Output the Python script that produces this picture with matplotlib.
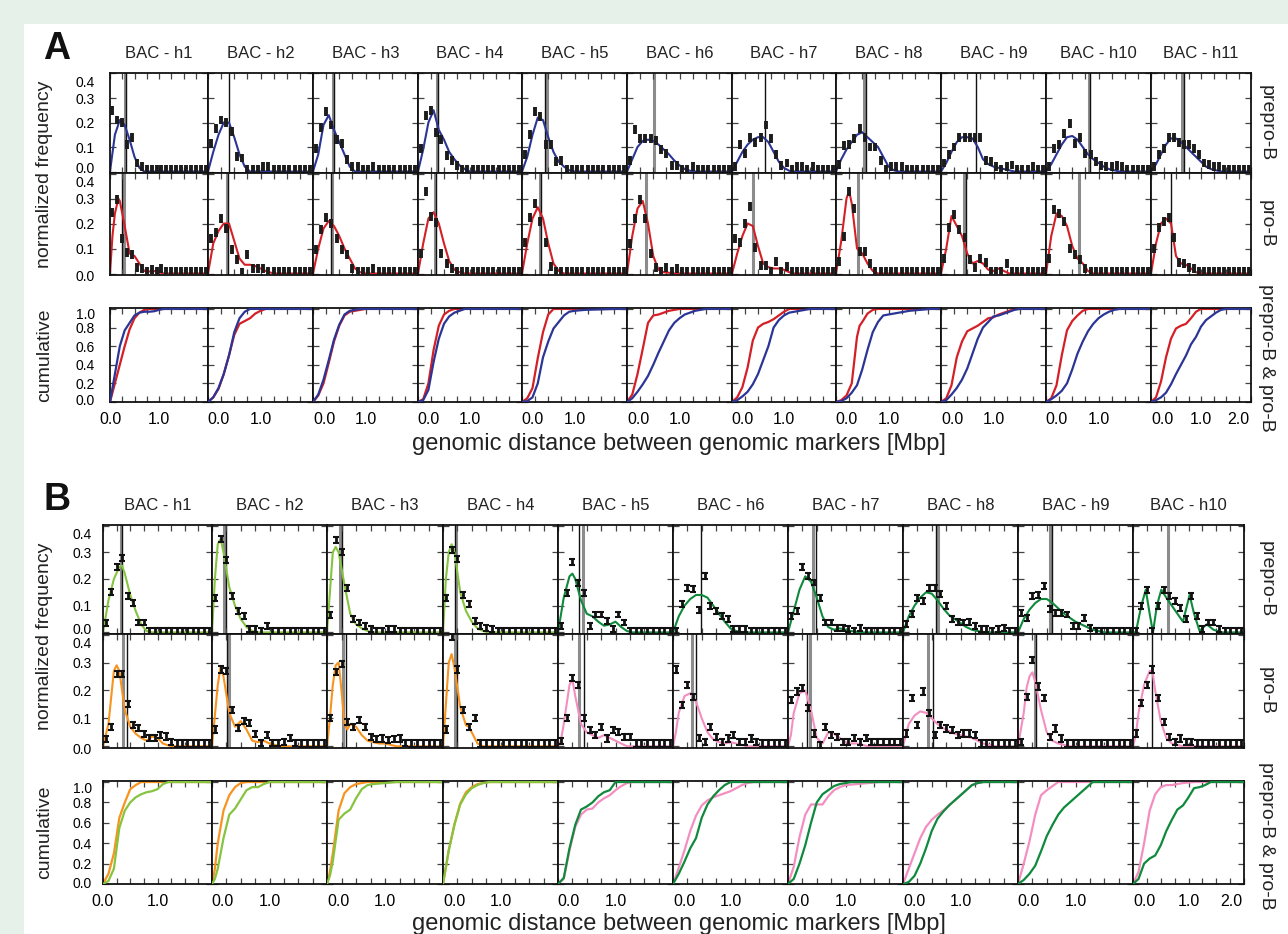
import matplotlib.pyplot as plt
from matplotlib.patches import Rectangle
from matplotlib.transforms import ScaledTranslation
import numpy as np

plt.rcParams['font.family'] = ['Liberation Sans', 'DejaVu Sans']

# ---------------- data ----------------
bins = [0.05, 0.15, 0.25, 0.35, 0.45, 0.55, 0.65, 0.75, 0.85, 0.95,
        1.05, 1.15, 1.25, 1.35, 1.45, 1.55, 1.65, 1.75, 1.85, 1.95]

a_titles = ['BAC - h1', 'BAC - h2', 'BAC - h3', 'BAC - h4', 'BAC - h5', 'BAC - h6',
            'BAC - h7', 'BAC - h8', 'BAC - h9', 'BAC - h10', 'BAC - h11']
b_titles = ['BAC - h1', 'BAC - h2', 'BAC - h3', 'BAC - h4', 'BAC - h5',
            'BAC - h6', 'BAC - h7', 'BAC - h8', 'BAC - h9', 'BAC - h10']

# panel A, prepro-B histograms (normalized frequency per 0.1 Mbp bin)
a_pre_hist = [
    [0.25, 0.21, 0.20, 0.11, 0.14, 0.035, 0.02, 0.01, 0.01, 0.01, 0.01, 0.01, 0.01, 0.01, 0.01, 0.01, 0.01, 0.01, 0.01, 0.01],
    [0.115, 0.175, 0.21, 0.20, 0.165, 0.06, 0.055, 0.01, 0.01, 0.01, 0.02, 0.02, 0.01, 0.01, 0.01, 0.01, 0.01, 0.01, 0.01, 0.01],
    [0.095, 0.18, 0.245, 0.19, 0.13, 0.115, 0.05, 0.02, 0.02, 0.01, 0.01, 0.02, 0.01, 0.01, 0.01, 0.01, 0.01, 0.01, 0.01, 0.01],
    [0.095, 0.23, 0.25, 0.16, 0.13, 0.065, 0.045, 0.025, 0.01, 0.01, 0.01, 0.01, 0.01, 0.01, 0.01, 0.01, 0.01, 0.01, 0.01, 0.01],
    [0.07, 0.15, 0.245, 0.225, 0.11, 0.11, 0.04, 0.045, 0.01, 0.01, 0.01, 0.01, 0.01, 0.01, 0.01, 0.01, 0.01, 0.01, 0.01, 0.01],
    [0.045, 0.17, 0.135, 0.135, 0.135, 0.125, 0.09, 0.075, 0.025, 0.025, 0.01, 0.01, 0.02, 0.01, 0.01, 0.01, 0.01, 0.01, 0.01, 0.01],
    [0.02, 0.11, 0.075, 0.14, 0.12, 0.14, 0.19, 0.135, 0.07, 0.025, 0.035, 0.01, 0.02, 0.02, 0.01, 0.02, 0.01, 0.01, 0.01, 0.01],
    [0.03, 0.105, 0.11, 0.135, 0.175, 0.14, 0.1, 0.1, 0.045, 0.01, 0.02, 0.02, 0.02, 0.01, 0.01, 0.01, 0.01, 0.01, 0.01, 0.01],
    [0.035, 0.07, 0.1, 0.14, 0.14, 0.14, 0.14, 0.14, 0.045, 0.04, 0.02, 0.01, 0.02, 0.027, 0.01, 0.01, 0.01, 0.02, 0.01, 0.01],
    [0.02, 0.095, 0.11, 0.155, 0.195, 0.115, 0.14, 0.075, 0.07, 0.04, 0.025, 0.02, 0.02, 0.025, 0.02, 0.01, 0.01, 0.01, 0.01, 0.01],
    [0.02, 0.07, 0.095, 0.14, 0.14, 0.12, 0.11, 0.11, 0.095, 0.07, 0.035, 0.03, 0.02, 0.02, 0.01, 0.01, 0.01, 0.01, 0.01, 0.01],
]
# panel A, pro-B histograms
a_pro_hist = [
    [0.245, 0.295, 0.14, 0.085, 0.075, 0.025, 0.02, 0.01, 0.015, 0.01, 0.02, 0.01, 0.01, 0.01, 0.01, 0.01, 0.01, 0.01, 0.01, 0.01],
    [0.14, 0.165, 0.22, 0.18, 0.095, 0.055, 0.005, 0.075, 0.02, 0.02, 0.02, 0.01, 0.01, 0.01, 0.01, 0.01, 0.01, 0.01, 0.01, 0.01],
    [0.095, 0.175, 0.225, 0.2, 0.14, 0.095, 0.075, 0.02, 0.01, 0.01, 0.01, 0.02, 0.01, 0.01, 0.01, 0.01, 0.01, 0.01, 0.01, 0.01],
    [0.08, 0.33, 0.227, 0.205, 0.08, 0.04, 0.02, 0.01, 0.01, 0.01, 0.01, 0.01, 0.01, 0.01, 0.01, 0.01, 0.01, 0.01, 0.01, 0.01],
    [0.125, 0.225, 0.28, 0.21, 0.125, 0.03, 0.01, 0.01, 0.01, 0.01, 0.01, 0.01, 0.01, 0.01, 0.01, 0.01, 0.01, 0.01, 0.01, 0.01],
    [0.12, 0.22, 0.295, 0.22, 0.08, 0.025, 0.01, 0.025, 0.01, 0.02, 0.01, 0.01, 0.01, 0.01, 0.01, 0.01, 0.01, 0.01, 0.01, 0.01],
    [0.14, 0.125, 0.2, 0.27, 0.105, 0.033, 0.033, 0.01, 0.05, 0.01, 0.03, 0.01, 0.01, 0.01, 0.01, 0.01, 0.01, 0.01, 0.01, 0.01],
    [0.05, 0.15, 0.33, 0.26, 0.09, 0.09, 0.04, 0.01, 0.01, 0.01, 0.01, 0.01, 0.01, 0.01, 0.01, 0.01, 0.01, 0.01, 0.01, 0.01],
    [0.06, 0.185, 0.235, 0.175, 0.145, 0.055, 0.025, 0.06, 0.045, 0.01, 0.01, 0.01, 0.04, 0.01, 0.01, 0.01, 0.01, 0.01, 0.01, 0.01],
    [0.06, 0.255, 0.24, 0.21, 0.1, 0.075, 0.055, 0.02, 0.01, 0.01, 0.01, 0.01, 0.01, 0.01, 0.01, 0.01, 0.01, 0.01, 0.01, 0.01],
    [0.1, 0.185, 0.21, 0.225, 0.145, 0.045, 0.04, 0.025, 0.02, 0.01, 0.01, 0.01, 0.01, 0.01, 0.01, 0.01, 0.01, 0.01, 0.01, 0.01],
]
# fitted curves, (Mbp, frequency)
a_pre_fit = [
    [(0, 0), (0.1, 0.15), (0.2, 0.21), (0.3, 0.19), (0.4, 0.13), (0.5, 0.06), (0.6, 0.015), (0.7, 0), (2.0, 0)],
    [(0, 0), (0.1, 0.08), (0.2, 0.15), (0.3, 0.2), (0.4, 0.2), (0.5, 0.14), (0.6, 0.07), (0.7, 0.02), (0.8, 0), (2.0, 0)],
    [(0, 0), (0.1, 0.07), (0.2, 0.19), (0.3, 0.23), (0.4, 0.17), (0.5, 0.12), (0.6, 0.07), (0.7, 0.02), (0.8, 0), (2.0, 0)],
    [(0, 0), (0.1, 0.09), (0.2, 0.2), (0.3, 0.25), (0.4, 0.17), (0.5, 0.13), (0.6, 0.08), (0.7, 0.05), (0.8, 0.025), (0.9, 0.01), (1.0, 0), (2.0, 0)],
    [(0, 0), (0.1, 0.06), (0.2, 0.15), (0.3, 0.22), (0.4, 0.21), (0.5, 0.14), (0.6, 0.08), (0.7, 0.04), (0.8, 0.02), (0.9, 0.005), (1.0, 0), (2.0, 0)],
    [(0, 0), (0.1, 0.05), (0.2, 0.1), (0.3, 0.125), (0.4, 0.13), (0.5, 0.125), (0.6, 0.11), (0.7, 0.09), (0.8, 0.07), (0.9, 0.045), (1.0, 0.025), (1.1, 0.01), (1.2, 0.003), (1.3, 0), (2.0, 0)],
    [(0, 0), (0.1, 0.04), (0.2, 0.08), (0.3, 0.11), (0.4, 0.13), (0.5, 0.14), (0.6, 0.14), (0.7, 0.12), (0.8, 0.08), (0.9, 0.04), (1.0, 0.015), (1.1, 0.003), (1.2, 0), (2.0, 0)],
    [(0, 0), (0.1, 0.05), (0.2, 0.09), (0.3, 0.12), (0.4, 0.15), (0.5, 0.16), (0.6, 0.14), (0.7, 0.12), (0.8, 0.1), (0.9, 0.06), (1.0, 0.02), (1.1, 0.005), (1.2, 0), (2.0, 0)],
    [(0, 0), (0.1, 0.035), (0.2, 0.08), (0.3, 0.12), (0.4, 0.14), (0.5, 0.14), (0.6, 0.135), (0.7, 0.1), (0.8, 0.05), (0.9, 0.03), (1.0, 0.02), (1.1, 0.015), (1.2, 0.01), (1.3, 0.005), (1.4, 0), (2.0, 0)],
    [(0, 0), (0.1, 0.03), (0.2, 0.07), (0.3, 0.11), (0.4, 0.14), (0.5, 0.145), (0.6, 0.13), (0.7, 0.1), (0.8, 0.07), (0.9, 0.05), (1.0, 0.035), (1.1, 0.02), (1.2, 0.01), (1.3, 0.005), (1.4, 0), (2.0, 0)],
    [(0, 0), (0.1, 0.03), (0.2, 0.07), (0.3, 0.11), (0.4, 0.135), (0.5, 0.135), (0.6, 0.12), (0.7, 0.1), (0.8, 0.08), (0.9, 0.06), (1.0, 0.04), (1.1, 0.02), (1.2, 0.01), (1.3, 0.005), (1.4, 0), (2.0, 0)],
]
a_pro_fit = [
    [(0, 0), (0.05, 0.15), (0.1, 0.24), (0.17, 0.3), (0.2, 0.29), (0.3, 0.19), (0.4, 0.08), (0.5, 0.07), (0.6, 0.04), (0.7, 0.01), (0.8, 0.008), (0.9, 0.01), (1.0, 0.005), (1.1, 0), (2.0, 0)],
    [(0, 0), (0.1, 0.12), (0.2, 0.17), (0.3, 0.2), (0.4, 0.2), (0.5, 0.13), (0.6, 0.06), (0.7, 0.035), (0.8, 0.035), (0.9, 0.03), (1.0, 0.02), (1.1, 0.01), (1.2, 0.003), (1.3, 0), (2.0, 0)],
    [(0, 0), (0.1, 0.1), (0.2, 0.18), (0.3, 0.21), (0.4, 0.19), (0.5, 0.15), (0.6, 0.1), (0.7, 0.06), (0.8, 0.02), (0.9, 0.005), (1.0, 0), (2.0, 0)],
    [(0, 0), (0.1, 0.12), (0.2, 0.22), (0.3, 0.245), (0.4, 0.2), (0.5, 0.12), (0.6, 0.05), (0.7, 0.015), (0.8, 0.005), (0.9, 0), (2.0, 0)],
    [(0, 0), (0.1, 0.12), (0.2, 0.22), (0.3, 0.265), (0.4, 0.22), (0.5, 0.12), (0.6, 0.04), (0.7, 0.01), (0.8, 0), (2.0, 0)],
    [(0, 0), (0.1, 0.15), (0.2, 0.26), (0.3, 0.29), (0.4, 0.2), (0.5, 0.07), (0.6, 0.015), (0.7, 0.005), (0.8, 0.003), (0.9, 0), (2.0, 0)],
    [(0, 0), (0.1, 0.08), (0.2, 0.15), (0.3, 0.2), (0.4, 0.19), (0.5, 0.11), (0.6, 0.04), (0.7, 0.025), (0.8, 0.02), (0.9, 0.02), (1.0, 0.015), (1.1, 0.005), (1.2, 0), (2.0, 0)],
    [(0, 0), (0.1, 0.13), (0.2, 0.3), (0.25, 0.33), (0.3, 0.28), (0.4, 0.1), (0.5, 0.08), (0.6, 0.04), (0.7, 0.01), (0.8, 0), (2.0, 0)],
    [(0, 0), (0.1, 0.1), (0.2, 0.23), (0.3, 0.19), (0.4, 0.15), (0.5, 0.08), (0.6, 0.04), (0.7, 0.05), (0.8, 0.04), (0.9, 0.015), (1.0, 0.01), (1.1, 0.02), (1.2, 0.01), (1.3, 0), (2.0, 0)],
    [(0, 0), (0.1, 0.15), (0.2, 0.24), (0.3, 0.23), (0.4, 0.19), (0.5, 0.11), (0.6, 0.06), (0.7, 0.04), (0.8, 0.01), (0.9, 0), (2.0, 0)],
    [(0, 0), (0.1, 0.12), (0.2, 0.2), (0.3, 0.22), (0.4, 0.2), (0.5, 0.07), (0.6, 0.04), (0.7, 0.035), (0.8, 0.02), (0.9, 0.005), (1.0, 0), (2.0, 0)],
]
# cumulative distributions
a_pre_cum = [
    [(0, 0), (0.1, 0.3), (0.2, 0.6), (0.3, 0.77), (0.4, 0.85), (0.5, 0.93), (0.6, 0.96), (0.7, 0.97), (0.8, 0.97), (0.9, 0.975), (1.0, 0.99), (1.1, 1.0), (2.0, 1.0)],
    [(0, 0), (0.1, 0.05), (0.2, 0.15), (0.3, 0.3), (0.4, 0.5), (0.5, 0.75), (0.6, 0.9), (0.7, 0.97), (0.8, 1.0), (2.0, 1.0)],
    [(0, 0), (0.1, 0.08), (0.2, 0.24), (0.3, 0.45), (0.4, 0.67), (0.5, 0.83), (0.6, 0.94), (0.7, 0.98), (0.8, 0.99), (0.9, 1.0), (2.0, 1.0)],
    [(0, 0), (0.1, 0.02), (0.2, 0.13), (0.3, 0.43), (0.4, 0.68), (0.5, 0.84), (0.6, 0.92), (0.7, 0.96), (0.8, 0.98), (0.9, 1.0), (2.0, 1.0)],
    [(0, 0), (0.1, 0.01), (0.2, 0.05), (0.3, 0.2), (0.4, 0.48), (0.5, 0.65), (0.6, 0.79), (0.7, 0.86), (0.8, 0.93), (0.9, 0.97), (1.0, 0.98), (1.2, 0.99), (1.5, 0.995), (1.8, 1.0), (2.0, 1.0)],
    [(0, 0), (0.1, 0.04), (0.2, 0.11), (0.3, 0.19), (0.4, 0.28), (0.5, 0.4), (0.6, 0.53), (0.7, 0.65), (0.8, 0.77), (0.9, 0.85), (1.0, 0.9), (1.1, 0.94), (1.2, 0.96), (1.3, 0.98), (1.4, 0.99), (1.5, 1.0), (2.0, 1.0)],
    [(0, 0), (0.1, 0.02), (0.2, 0.06), (0.3, 0.11), (0.4, 0.19), (0.5, 0.3), (0.6, 0.45), (0.7, 0.6), (0.8, 0.8), (0.9, 0.88), (1.0, 0.93), (1.1, 0.96), (1.2, 0.97), (1.3, 0.98), (1.4, 0.99), (1.5, 1.0), (2.0, 1.0)],
    [(0, 0), (0.1, 0.01), (0.2, 0.04), (0.3, 0.1), (0.4, 0.18), (0.5, 0.35), (0.6, 0.56), (0.7, 0.75), (0.8, 0.86), (0.9, 0.93), (1.0, 0.94), (1.2, 0.96), (1.4, 0.98), (1.6, 0.99), (1.8, 1.0), (2.0, 1.0)],
    [(0, 0), (0.1, 0.02), (0.2, 0.08), (0.3, 0.15), (0.4, 0.24), (0.5, 0.36), (0.6, 0.52), (0.7, 0.68), (0.8, 0.8), (0.9, 0.86), (1.0, 0.92), (1.1, 0.93), (1.2, 0.95), (1.3, 0.97), (1.4, 0.99), (1.5, 1.0), (2.0, 1.0)],
    [(0, 0), (0.1, 0.03), (0.2, 0.07), (0.3, 0.12), (0.4, 0.2), (0.5, 0.35), (0.6, 0.52), (0.7, 0.65), (0.8, 0.76), (0.9, 0.84), (1.0, 0.9), (1.1, 0.94), (1.2, 0.97), (1.3, 0.99), (1.4, 1.0), (2.0, 1.0)],
    [(0, 0), (0.1, 0.02), (0.2, 0.05), (0.3, 0.1), (0.4, 0.19), (0.5, 0.3), (0.6, 0.4), (0.7, 0.5), (0.8, 0.62), (0.9, 0.7), (1.0, 0.81), (1.1, 0.88), (1.2, 0.92), (1.3, 0.96), (1.4, 0.99), (1.5, 1.0), (2.0, 1.0)],
]
a_pro_cum = [
    [(0, 0), (0.1, 0.2), (0.2, 0.4), (0.3, 0.6), (0.4, 0.78), (0.5, 0.9), (0.6, 0.96), (0.7, 0.99), (0.8, 1.0), (2.0, 1.0)],
    [(0, 0), (0.1, 0.05), (0.2, 0.14), (0.3, 0.3), (0.4, 0.5), (0.5, 0.72), (0.6, 0.84), (0.7, 0.87), (0.8, 0.9), (0.9, 0.95), (1.0, 0.98), (1.1, 1.0), (2.0, 1.0)],
    [(0, 0), (0.1, 0.07), (0.2, 0.2), (0.3, 0.42), (0.4, 0.65), (0.5, 0.82), (0.6, 0.93), (0.7, 0.97), (0.8, 0.98), (0.9, 0.99), (1.0, 1.0), (2.0, 1.0)],
    [(0, 0), (0.1, 0.03), (0.2, 0.2), (0.3, 0.56), (0.4, 0.82), (0.5, 0.94), (0.6, 0.98), (0.7, 1.0), (2.0, 1.0)],
    [(0, 0), (0.1, 0.04), (0.2, 0.15), (0.3, 0.47), (0.4, 0.75), (0.5, 0.94), (0.6, 1.0), (2.0, 1.0)],
    [(0, 0), (0.1, 0.08), (0.2, 0.3), (0.3, 0.57), (0.4, 0.85), (0.5, 0.93), (0.6, 0.94), (0.7, 0.96), (0.8, 0.98), (0.9, 0.99), (1.0, 1.0), (2.0, 1.0)],
    [(0, 0), (0.1, 0.05), (0.2, 0.16), (0.3, 0.37), (0.4, 0.66), (0.5, 0.8), (0.6, 0.84), (0.7, 0.86), (0.8, 0.89), (0.9, 0.93), (1.0, 0.97), (1.1, 1.0), (2.0, 1.0)],
    [(0, 0), (0.1, 0.02), (0.2, 0.07), (0.3, 0.2), (0.35, 0.45), (0.4, 0.7), (0.45, 0.82), (0.5, 0.86), (0.6, 0.95), (0.7, 0.99), (0.8, 1.0), (2.0, 1.0)],
    [(0, 0), (0.1, 0.04), (0.2, 0.18), (0.3, 0.48), (0.4, 0.65), (0.5, 0.76), (0.6, 0.79), (0.7, 0.82), (0.8, 0.86), (0.9, 0.9), (1.0, 0.91), (1.1, 0.94), (1.2, 0.96), (1.3, 0.98), (1.4, 1.0), (2.0, 1.0)],
    [(0, 0), (0.1, 0.04), (0.2, 0.18), (0.3, 0.5), (0.4, 0.77), (0.5, 0.87), (0.6, 0.93), (0.7, 0.98), (0.8, 1.0), (2.0, 1.0)],
    [(0, 0), (0.1, 0.05), (0.2, 0.22), (0.3, 0.48), (0.4, 0.68), (0.5, 0.79), (0.6, 0.82), (0.7, 0.84), (0.8, 0.9), (0.9, 0.97), (1.0, 1.0), (2.0, 1.0)],
]
# marker lines (gray, black) in Mbp; None = absent
a_pre_marks = [(0.30, 0.32), (None, 0.40), (0.38, 0.40), (0.36, 0.38), (0.48, 0.43), (0.51, None),
               (None, 0.63), (0.535, 0.57), (None, 0.67), (0.81, 0.84), (0.62, 0.65)]
a_pro_marks = [(0.29, 0.24), (0.37, 0.39), (0.37, 0.35), (0.33, 0.35), (0.35, 0.37), (0.36, None),
               (0.40, None), (0.41, None), (0.43, 0.48), (0.62, None), (None, 0.40)]

# panel B
b_pre_hist = [
    [0.035, 0.15, 0.245, 0.28, 0.135, 0.11, 0.037, 0.037, 0.005, 0.005, 0.005, 0.005, 0.005, 0.005, 0.005, 0.005, 0.005, 0.005, 0.005, 0.005],
    [0.13, 0.35, 0.27, 0.135, 0.08, 0.06, 0.012, 0.014, 0.005, 0.025, 0.005, 0.005, 0.005, 0.005, 0.005, 0.005, 0.005, 0.005, 0.005, 0.005],
    [0.065, 0.345, 0.3, 0.165, 0.05, 0.037, 0.025, 0.012, 0.005, 0.005, 0.014, 0.014, 0.005, 0.005, 0.005, 0.005, 0.005, 0.005, 0.005, 0.005],
    [0.13, 0.31, 0.275, 0.14, 0.105, 0.043, 0.025, 0.018, 0.012, 0.005, 0.005, 0.005, 0.005, 0.005, 0.005, 0.005, 0.005, 0.005, 0.005, 0.005],
    [0.025, 0.147, 0.264, 0.184, 0.147, 0.025, 0.067, 0.067, 0.043, 0.012, 0.067, 0.037, 0.005, 0.005, 0.005, 0.005, 0.005, 0.005, 0.005, 0.005],
    [0.005, 0.105, 0.165, 0.162, 0.085, 0.21, 0.098, 0.08, 0.06, 0.05, 0.012, 0.012, 0.012, 0.005, 0.005, 0.005, 0.005, 0.005, 0.005, 0.005],
    [0.06, 0.08, 0.245, 0.21, 0.187, 0.13, 0.037, 0.037, 0.018, 0.018, 0.012, 0.005, 0.018, 0.005, 0.005, 0.005, 0.005, 0.005, 0.005, 0.005],
    [0.03, 0.07, 0.13, 0.117, 0.165, 0.165, 0.145, 0.098, 0.05, 0.04, 0.037, 0.04, 0.025, 0.012, 0.012, 0.005, 0.012, 0.018, 0.005, 0.005],
    [0.074, 0.055, 0.135, 0.141, 0.174, 0.086, 0.074, 0.074, 0.067, 0.025, 0.025, 0.055, 0.018, 0.005, 0.005, 0.005, 0.005, 0.005, 0.005, 0.005],
    [0.005, 0.1, 0.16, 0.005, 0.1, 0.16, 0.135, 0.117, 0.092, 0.05, 0.135, 0.06, 0.012, 0.037, 0.037, 0.012, 0.005, 0.005, 0.005, 0.005],
]
b_pro_hist = [
    [0.025, 0.07, 0.26, 0.26, 0.15, 0.075, 0.065, 0.045, 0.03, 0.03, 0.04, 0.035, 0.015, 0.01, 0.01, 0.01, 0.01, 0.01, 0.01, 0.01],
    [0.06, 0.275, 0.27, 0.13, 0.065, 0.09, 0.085, 0.045, 0.012, 0.04, 0.012, 0.012, 0.015, 0.03, 0.012, 0.01, 0.01, 0.01, 0.01, 0.01],
    [0.1, 0.265, 0.295, 0.088, 0.07, 0.094, 0.07, 0.034, 0.025, 0.028, 0.022, 0.025, 0.028, 0.012, 0.01, 0.01, 0.01, 0.01, 0.01, 0.01],
    [0.06, 0.39, 0.275, 0.13, 0.07, 0.1, 0.01, 0.01, 0.01, 0.01, 0.01, 0.01, 0.01, 0.01, 0.01, 0.01, 0.01, 0.01, 0.01, 0.01],
    [0.02, 0.1, 0.245, 0.22, 0.1, 0.058, 0.04, 0.07, 0.028, 0.058, 0.052, 0.034, 0.034, 0.01, 0.01, 0.01, 0.01, 0.01, 0.01, 0.01],
    [0.275, 0.148, 0.22, 0.178, 0.03, 0.015, 0.07, 0.034, 0.015, 0.028, 0.04, 0.015, 0.015, 0.028, 0.015, 0.01, 0.01, 0.01, 0.01, 0.01],
    [0.166, 0.196, 0.208, 0.136, 0.046, 0.005, 0.07, 0.04, 0.034, 0.015, 0.015, 0.03, 0.015, 0.03, 0.015, 0.015, 0.015, 0.015, 0.015, 0.015],
    [0.046, 0.172, 0.076, 0.196, 0.118, 0.04, 0.076, 0.064, 0.058, 0.04, 0.046, 0.046, 0.04, 0.01, 0.01, 0.01, 0.01, 0.01, 0.01, 0.01],
    [0.015, 0.178, 0.31, 0.214, 0.172, 0.034, 0.064, 0.028, 0.01, 0.01, 0.01, 0.01, 0.01, 0.01, 0.01, 0.01, 0.01, 0.01, 0.01, 0.01],
    [0.046, 0.154, 0.22, 0.275, 0.172, 0.088, 0.034, 0.015, 0.028, 0.015, 0.015, 0.01, 0.01, 0.01, 0.01, 0.01, 0.01, 0.01, 0.01, 0.01],
]
b_pre_fit = [
    [(0, 0), (0.1, 0.12), (0.2, 0.2), (0.3, 0.245), (0.35, 0.25), (0.4, 0.22), (0.5, 0.14), (0.6, 0.08), (0.7, 0.03), (0.8, 0.005), (0.9, 0), (2.0, 0)],
    [(0, 0), (0.05, 0.2), (0.1, 0.33), (0.15, 0.35), (0.2, 0.3), (0.3, 0.17), (0.4, 0.1), (0.5, 0.05), (0.6, 0.02), (0.7, 0.005), (0.8, 0), (2.0, 0)],
    [(0, 0), (0.05, 0.15), (0.1, 0.3), (0.15, 0.32), (0.2, 0.3), (0.3, 0.18), (0.4, 0.07), (0.5, 0.03), (0.6, 0.015), (0.7, 0.005), (0.8, 0), (2.0, 0)],
    [(0, 0), (0.05, 0.2), (0.1, 0.3), (0.15, 0.33), (0.2, 0.3), (0.3, 0.15), (0.4, 0.08), (0.5, 0.04), (0.6, 0.015), (0.7, 0.005), (0.8, 0), (2.0, 0)],
    [(0, 0), (0.1, 0.13), (0.2, 0.21), (0.25, 0.22), (0.3, 0.2), (0.4, 0.12), (0.5, 0.07), (0.6, 0.06), (0.7, 0.04), (0.8, 0.025), (0.9, 0.03), (1.0, 0.04), (1.1, 0.02), (1.2, 0.005), (1.3, 0), (2.0, 0)],
    [(0, 0), (0.1, 0.06), (0.2, 0.1), (0.3, 0.125), (0.4, 0.14), (0.5, 0.14), (0.6, 0.13), (0.7, 0.1), (0.8, 0.07), (0.9, 0.04), (1.0, 0.015), (1.1, 0.005), (1.2, 0), (2.0, 0)],
    [(0, 0), (0.1, 0.08), (0.2, 0.16), (0.3, 0.21), (0.4, 0.19), (0.5, 0.13), (0.6, 0.06), (0.7, 0.02), (0.8, 0.01), (0.9, 0.015), (1.0, 0.01), (1.1, 0.005), (1.2, 0.002), (1.3, 0), (2.0, 0)],
    [(0, 0), (0.1, 0.06), (0.2, 0.1), (0.3, 0.13), (0.4, 0.15), (0.5, 0.145), (0.6, 0.12), (0.7, 0.09), (0.8, 0.065), (0.9, 0.05), (1.0, 0.035), (1.1, 0.02), (1.2, 0.01), (1.3, 0.005), (1.4, 0), (2.0, 0)],
    [(0, 0), (0.1, 0.05), (0.2, 0.085), (0.3, 0.11), (0.4, 0.125), (0.5, 0.125), (0.6, 0.11), (0.7, 0.09), (0.8, 0.07), (0.9, 0.055), (1.0, 0.04), (1.1, 0.03), (1.2, 0.02), (1.3, 0.01), (1.4, 0.005), (1.5, 0), (2.0, 0)],
    [(0, 0), (0.05, 0), (0.15, 0.1), (0.23, 0.16), (0.3, 0.07), (0.36, 0), (0.43, 0.1), (0.51, 0.16), (0.6, 0.13), (0.7, 0.1), (0.8, 0.07), (0.9, 0.04), (0.96, 0.09), (1.02, 0.14), (1.1, 0.07), (1.2, 0.005), (1.27, 0.02), (1.33, 0.03), (1.45, 0.01), (1.6, 0), (2.0, 0)],
]
b_pro_fit = [
    [(0, 0), (0.1, 0.08), (0.2, 0.27), (0.25, 0.29), (0.3, 0.27), (0.35, 0.2), (0.4, 0.13), (0.5, 0.07), (0.6, 0.045), (0.7, 0.03), (0.8, 0.02), (0.9, 0.035), (1.0, 0.03), (1.1, 0.01), (1.2, 0.003), (1.3, 0), (2.0, 0)],
    [(0, 0), (0.1, 0.22), (0.15, 0.285), (0.2, 0.25), (0.3, 0.12), (0.4, 0.07), (0.5, 0.09), (0.6, 0.06), (0.7, 0.02), (0.8, 0.015), (0.9, 0.02), (1.0, 0.01), (1.1, 0.005), (1.2, 0), (2.0, 0)],
    [(0, 0), (0.05, 0.1), (0.1, 0.22), (0.15, 0.29), (0.2, 0.3), (0.25, 0.2), (0.3, 0.08), (0.35, 0.06), (0.4, 0.08), (0.5, 0.07), (0.6, 0.04), (0.7, 0.02), (0.8, 0.015), (0.9, 0.01), (1.0, 0.01), (1.1, 0.005), (1.2, 0), (2.0, 0)],
    [(0, 0), (0.05, 0.15), (0.1, 0.3), (0.15, 0.33), (0.2, 0.28), (0.3, 0.14), (0.4, 0.075), (0.45, 0.07), (0.5, 0.05), (0.6, 0.01), (0.7, 0), (2.0, 0)],
    [(0, 0), (0.05, 0.02), (0.1, 0.08), (0.2, 0.22), (0.25, 0.24), (0.3, 0.18), (0.4, 0.08), (0.5, 0.05), (0.6, 0.04), (0.7, 0.03), (0.8, 0.04), (0.9, 0.03), (1.0, 0.02), (1.1, 0.01), (1.2, 0), (2.0, 0)],
    [(0, 0), (0.05, 0.05), (0.1, 0.12), (0.2, 0.18), (0.3, 0.19), (0.4, 0.16), (0.5, 0.1), (0.6, 0.05), (0.7, 0.025), (0.8, 0.015), (0.9, 0.01), (1.0, 0.015), (1.1, 0.01), (1.2, 0.005), (1.3, 0), (2.0, 0)],
    [(0, 0), (0.05, 0.04), (0.1, 0.12), (0.2, 0.19), (0.3, 0.2), (0.4, 0.13), (0.5, 0.03), (0.6, 0.01), (0.7, 0.05), (0.8, 0.045), (0.9, 0.03), (1.0, 0.015), (1.1, 0.01), (1.2, 0.01), (1.3, 0.005), (1.4, 0), (2.0, 0)],
    [(0, 0), (0.05, 0.04), (0.1, 0.08), (0.2, 0.11), (0.3, 0.125), (0.4, 0.12), (0.5, 0.1), (0.6, 0.08), (0.7, 0.065), (0.8, 0.055), (0.9, 0.045), (1.0, 0.04), (1.1, 0.035), (1.2, 0.03), (1.3, 0.02), (1.4, 0.01), (1.5, 0.005), (1.6, 0), (2.0, 0)],
    [(0, 0), (0.1, 0.12), (0.15, 0.21), (0.2, 0.25), (0.25, 0.265), (0.3, 0.23), (0.4, 0.13), (0.5, 0.05), (0.6, 0.02), (0.7, 0.01), (0.8, 0.005), (0.9, 0), (2.0, 0)],
    [(0, 0), (0.05, 0.04), (0.1, 0.12), (0.2, 0.22), (0.3, 0.27), (0.35, 0.27), (0.4, 0.2), (0.5, 0.09), (0.6, 0.03), (0.7, 0.01), (0.8, 0.005), (0.9, 0), (2.0, 0)],
]
b_pre_cum = [
    [(0, 0), (0.1, 0.03), (0.2, 0.15), (0.3, 0.55), (0.4, 0.72), (0.5, 0.8), (0.6, 0.85), (0.7, 0.88), (0.8, 0.9), (0.9, 0.91), (1.0, 0.93), (1.1, 0.98), (1.2, 1.0), (2.0, 1.0)],
    [(0, 0), (0.05, 0.05), (0.1, 0.15), (0.2, 0.45), (0.3, 0.68), (0.4, 0.74), (0.5, 0.83), (0.6, 0.92), (0.7, 0.95), (0.8, 0.95), (0.9, 0.98), (1.0, 1.0), (2.0, 1.0)],
    [(0, 0), (0.05, 0.08), (0.1, 0.22), (0.2, 0.63), (0.3, 0.69), (0.4, 0.73), (0.5, 0.84), (0.6, 0.93), (0.7, 0.97), (0.8, 0.98), (0.9, 0.985), (1.0, 0.99), (1.1, 0.995), (1.2, 1.0), (2.0, 1.0)],
    [(0, 0), (0.1, 0.33), (0.2, 0.58), (0.3, 0.78), (0.4, 0.88), (0.5, 0.94), (0.6, 0.97), (0.7, 0.99), (0.8, 1.0), (2.0, 1.0)],
    [(0, 0), (0.1, 0.06), (0.2, 0.35), (0.3, 0.58), (0.4, 0.73), (0.5, 0.76), (0.6, 0.8), (0.7, 0.86), (0.8, 0.9), (0.9, 0.92), (1.0, 1.0), (2.0, 1.0)],
    [(0, 0), (0.1, 0.1), (0.2, 0.22), (0.3, 0.35), (0.4, 0.45), (0.5, 0.65), (0.6, 0.78), (0.7, 0.86), (0.8, 0.92), (0.9, 0.97), (1.0, 1.0), (2.0, 1.0)],
    [(0, 0), (0.1, 0.05), (0.2, 0.2), (0.3, 0.38), (0.4, 0.6), (0.5, 0.8), (0.6, 0.88), (0.7, 0.92), (0.8, 0.96), (0.9, 0.98), (1.0, 0.99), (1.1, 1.0), (2.0, 1.0)],
    [(0, 0), (0.1, 0.02), (0.2, 0.08), (0.3, 0.2), (0.4, 0.35), (0.5, 0.52), (0.6, 0.64), (0.7, 0.71), (0.8, 0.77), (0.9, 0.82), (1.0, 0.87), (1.1, 0.92), (1.2, 0.97), (1.3, 0.99), (1.4, 1.0), (2.0, 1.0)],
    [(0, 0), (0.1, 0.04), (0.2, 0.1), (0.3, 0.18), (0.4, 0.32), (0.5, 0.47), (0.6, 0.58), (0.7, 0.68), (0.8, 0.75), (0.9, 0.8), (1.0, 0.85), (1.1, 0.9), (1.2, 0.95), (1.3, 1.0), (2.0, 1.0)],
    [(0, 0), (0.1, 0.05), (0.2, 0.2), (0.3, 0.25), (0.4, 0.28), (0.5, 0.38), (0.6, 0.52), (0.7, 0.63), (0.8, 0.73), (0.9, 0.77), (1.0, 0.85), (1.1, 0.94), (1.2, 0.95), (1.3, 0.97), (1.4, 1.0), (2.0, 1.0)],
]
b_pro_cum = [
    [(0, 0), (0.1, 0.1), (0.2, 0.3), (0.3, 0.65), (0.4, 0.8), (0.5, 0.93), (0.6, 0.97), (0.7, 1.0), (2.0, 1.0)],
    [(0, 0), (0.05, 0.15), (0.1, 0.4), (0.2, 0.72), (0.3, 0.87), (0.4, 0.95), (0.5, 0.99), (0.6, 1.0), (2.0, 1.0)],
    [(0, 0), (0.05, 0.12), (0.1, 0.3), (0.2, 0.72), (0.3, 0.89), (0.4, 0.95), (0.5, 0.98), (0.6, 0.99), (0.7, 1.0), (2.0, 1.0)],
    [(0, 0), (0.1, 0.33), (0.2, 0.59), (0.3, 0.79), (0.4, 0.9), (0.5, 0.95), (0.6, 0.98), (0.7, 0.99), (0.8, 1.0), (2.0, 1.0)],
    [(0, 0), (0.1, 0.05), (0.2, 0.33), (0.3, 0.56), (0.4, 0.68), (0.5, 0.73), (0.6, 0.74), (0.7, 0.8), (0.8, 0.84), (0.9, 0.87), (1.0, 0.92), (1.1, 0.96), (1.2, 0.99), (1.3, 1.0), (2.0, 1.0)],
    [(0, 0), (0.1, 0.16), (0.2, 0.33), (0.3, 0.52), (0.4, 0.67), (0.5, 0.77), (0.6, 0.82), (0.7, 0.85), (0.8, 0.87), (0.9, 0.89), (1.0, 0.91), (1.1, 0.94), (1.2, 0.97), (1.3, 0.99), (1.4, 1.0), (2.0, 1.0)],
    [(0, 0), (0.1, 0.17), (0.2, 0.46), (0.3, 0.68), (0.4, 0.78), (0.5, 0.78), (0.6, 0.78), (0.7, 0.86), (0.8, 0.92), (0.9, 0.95), (1.0, 0.97), (1.2, 0.98), (1.4, 0.99), (1.6, 1.0), (2.0, 1.0)],
    [(0, 0), (0.1, 0.15), (0.2, 0.3), (0.3, 0.45), (0.4, 0.56), (0.5, 0.63), (0.6, 0.68), (0.7, 0.72), (0.8, 0.77), (0.9, 0.82), (1.0, 0.87), (1.1, 0.92), (1.2, 0.97), (1.3, 0.99), (1.4, 1.0), (2.0, 1.0)],
    [(0, 0), (0.1, 0.2), (0.2, 0.42), (0.3, 0.68), (0.4, 0.87), (0.5, 0.92), (0.6, 0.96), (0.7, 1.0), (2.0, 1.0)],
    [(0, 0), (0.1, 0.12), (0.2, 0.4), (0.3, 0.72), (0.4, 0.88), (0.5, 0.95), (0.6, 0.97), (0.7, 0.97), (0.8, 0.98), (0.9, 0.99), (1.0, 0.995), (1.1, 1.0), (2.0, 1.0)],
]
b_pre_marks = [(0.33, 0.35), (0.21, 0.25), (0.22, 0.25), (0.22, 0.20), (0.43, 0.36),
               (None, 0.49), (0.44, 0.48), (0.60, 0.57), (0.56, 0.59), (0.63, None)]
b_pro_marks = [(0.37, 0.44), (0.30, 0.26), (0.28, 0.33), (0.21, 0.24), (0.37, 0.45),
               (0.33, 0.40), (0.38, 0.33), (0.43, 0.52), (0.29, 0.32), (None, 0.35)]

# ---------------- colours ----------------
BLUE, RED = '#2b3595', '#d41f26'
LGREEN, ORANGE = '#86c440', '#f7931e'
DGREEN, PINK = '#0f8a3c', '#f38fc0'
a_pre_colors = [BLUE] * 11
a_pro_colors = [RED] * 11
b_pre_colors = [LGREEN] * 4 + [DGREEN] * 6
b_pro_colors = [ORANGE] * 4 + [PINK] * 6

# ---------------- figure ----------------
W, H = 1288, 934
fig = plt.figure(figsize=(W / 100, H / 100), dpi=100)
fig.patch.set_facecolor('#e6f2e9')
fig.add_artist(Rectangle((24 / W, 0), 1, 1 - 24 / H, transform=fig.transFigure,
                         facecolor='white', edgecolor='none', zorder=-5))


def px_axes(x0, y0, x1, y1):
    return fig.add_axes([x0 / W, 1 - y1 / H, (x1 - x0) / W, (y1 - y0) / H])


def shift(label, dx, dy):
    label.set_transform(label.get_transform() +
                        ScaledTranslation(dx / 100, dy / 100, fig.dpi_scale_trans))


def base_style(ax, ypad):
    ax.set_xlim(0, 2.0)
    ax.set_xticks(np.arange(0, 2.01, 0.25))
    for s in ax.spines.values():
        s.set_linewidth(1.3)
        s.set_color('#111111')
    ax.tick_params(direction='in', top=True, right=True, length=4.5, width=0.9,
                   color='#444444', labelsize=10, pad=7)
    ax.tick_params(axis='y', pad=ypad)


def hist_panel(ax, hist, fit, marks, color, first, big_err, ypad, low_shift):
    base_style(ax, ypad)
    g, k = marks
    if g is not None:
        ax.axvline(g, color='#8c8c8c', lw=2.2, zorder=1)
    if k is not None:
        ax.axvline(k, color='#111111', lw=1.0, zorder=1)
    ax.plot([p[0] for p in fit], [p[1] for p in fit], color=color, lw=1.5, zorder=2)
    if big_err:
        ax.errorbar(bins, hist, yerr=0.018, fmt='none', ecolor='#1c1c1c',
                    elinewidth=2.8, capsize=0, zorder=3)
    else:
        ax.errorbar(bins, hist, yerr=0.011, fmt='none', ecolor='#111111',
                    elinewidth=2.0, capsize=2.0, capthick=1.5, zorder=3)
    ax.set_ylim(-0.006, 0.402)
    ax.set_yticks([0, 0.1, 0.2, 0.3, 0.4])
    ax.tick_params(labelbottom=False)
    if first:
        ax.set_yticklabels(['0.0', '0.1', '0.2', '0.3', '0.4'])
        labs = ax.get_yticklabels()
        shift(labs[-1], 0, -8)
        shift(labs[0], 0, low_shift)
    else:
        ax.tick_params(labelleft=False)


def cum_panel(ax, pre, pro, cpre, cpro, col, ncol, ypad):
    base_style(ax, ypad)
    ax.plot([p[0] for p in pro], [p[1] for p in pro], color=cpro, lw=1.6, zorder=2)
    ax.plot([p[0] for p in pre], [p[1] for p in pre], color=cpre, lw=1.6, zorder=3)
    ax.set_ylim(0, 1.01)
    ax.set_yticks([0, 0.2, 0.4, 0.6, 0.8, 1.0])
    last = col == ncol - 1
    ax.set_xticklabels(['0.0', '', '', '', '1.0', '', '', '', '2.0' if last else ''])
    ax.tick_params(axis='x', labelsize=11.5)
    xl = ax.get_xticklabels()
    if col > 0:
        shift(xl[0], 11, 0)
    if last:
        shift(xl[-1], -13, 0)
    if col == 0:
        ax.set_yticklabels(['0.0', '0.2', '0.4', '0.6', '0.8', '1.0'])
        labs = ax.get_yticklabels()
        shift(labs[-1], 0, -5)
        shift(labs[0], 0, 2)
    else:
        ax.tick_params(labelleft=False)


def draw_block(lefts, right, rows, titles, pre_h, pro_h, pre_f, pro_f, pre_c, pro_c,
               pre_m, pro_m, cpre, cpro, big_err, title_y, letter, letter_y,
               ypad, xlabel_y):
    n = len(titles)
    edges = lefts + [right]
    (r1a, r1b), (r2a, r2b), (r3a, r3b) = rows
    for i in range(n):
        x0, x1 = edges[i], edges[i + 1]
        ax1 = px_axes(x0, r1a, x1, r1b)
        hist_panel(ax1, pre_h[i], pre_f[i], pre_m[i], cpre[i], i == 0, big_err, ypad, 4)
        ax2 = px_axes(x0, r2a, x1, r2b)
        hist_panel(ax2, pro_h[i], pro_f[i], pro_m[i], cpro[i], i == 0, big_err, ypad, -2)
        ax3 = px_axes(x0, r3a, x1, r3b)
        cum_panel(ax3, pre_c[i], pro_c[i], cpre[i], cpro[i], i, n, ypad)
        fig.text((x0 + x1) / 2 / W, 1 - title_y / H, titles[i], ha='center', va='center',
                 fontsize=12, color='#222222')
    fig.text(57 / W, 1 - letter_y / H, letter, ha='center', va='center', fontsize=27,
             fontweight='bold', color='#111111')
    mid12 = (r1a + r2b) / 2
    mid3 = (r3a + r3b) / 2
    fig.text(45 / W, 1 - mid12 / H, 'normalized frequency', rotation=90, ha='center',
             va='center', fontsize=14, color='#222222')
    fig.text(45 / W, 1 - mid3 / H, 'cumulative', rotation=90, ha='center', va='center',
             fontsize=14, color='#222222')
    rx = 1266
    fig.text(rx / W, 1 - (r1a + r1b) / 2 / H, 'prepro-B', rotation=-90, ha='center',
             va='center', fontsize=14, color='#222222')
    fig.text(rx / W, 1 - (r2a + r2b) / 2 / H, 'pro-B', rotation=-90, ha='center',
             va='center', fontsize=14, color='#222222')
    fig.text(rx / W, 1 - (mid3 + 3) / H, 'prepro-B & pro-B', rotation=-90, ha='center',
             va='center', fontsize=14, color='#222222')
    fig.text(679 / W, 1 - xlabel_y / H, 'genomic distance between genomic markers [Mbp]',
             ha='center', va='center', fontsize=17, color='#222222')


draw_block([110, 208, 313, 418, 522, 627, 732, 836, 941, 1046, 1151], 1251,
           [(73, 173), (173, 275), (308, 402)], a_titles,
           a_pre_hist, a_pro_hist, a_pre_fit, a_pro_fit, a_pre_cum, a_pro_cum,
           a_pre_marks, a_pro_marks, a_pre_colors, a_pro_colors, True,
           53, 'A', 49, 11, 444)
draw_block([103, 212, 327, 443, 558, 673, 788, 903, 1018, 1133], 1244,
           [(525, 634), (634, 748), (781, 884)], b_titles,
           b_pre_hist, b_pro_hist, b_pre_fit, b_pro_fit, b_pre_cum, b_pro_cum,
           b_pre_marks, b_pro_marks, b_pre_colors, b_pro_colors, False,
           505, 'B', 500, 8, 924)

fig.savefig('out.png', dpi=100, facecolor=fig.get_facecolor())
